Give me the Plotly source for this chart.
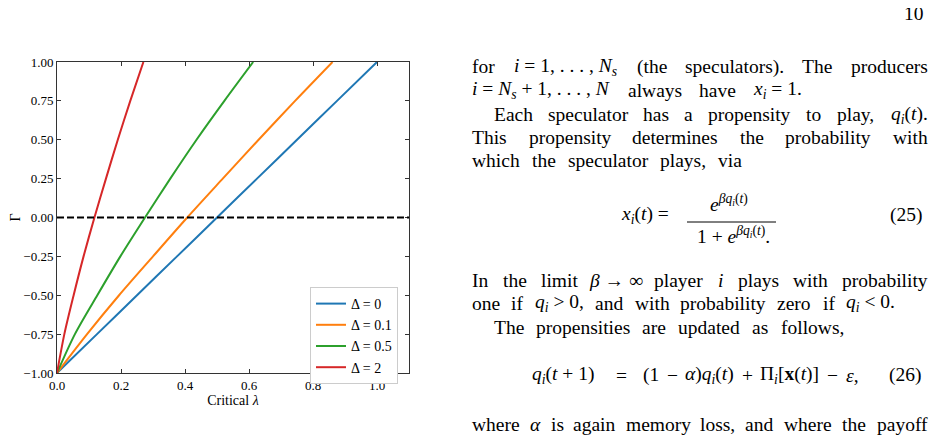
import re
import plotly.graph_objects as go

gamma = [-1.0, -0.75, -0.5, -0.25, 0.0, 0.25, 0.5, 0.75, 1.0]

# critical lambda for each Delta
lam_d0 = [0.0, 0.125, 0.25, 0.375, 0.5, 0.625, 0.75, 0.875, 1.0]
lam_d01 = [0.0, 0.094, 0.194, 0.300, 0.407, 0.518, 0.630, 0.744, 0.861]
lam_d05 = [0.0, 0.056, 0.126, 0.198, 0.275, 0.354, 0.436, 0.523, 0.613]
lam_d2 = [0.0, 0.023, 0.052, 0.083, 0.117, 0.153, 0.190, 0.229, 0.270]

series_names = ["Δ = 0", "Δ = 0.1", "Δ = 0.5", "Δ = 2"]
series_x = [lam_d0, lam_d01, lam_d05, lam_d2]
colors = ["#1f77b4", "#ff7f0e", "#2ca02c", "#d62728"]

x_ticks = [0.0, 0.2, 0.4, 0.6, 0.8, 1.0]
y_ticks = [-1.0, -0.75, -0.5, -0.25, 0.0, 0.25, 0.5, 0.75, 1.0]

# the page body has an 8px margin, so the figure is a bit smaller than the window
OFF = 8
W, H = 938 - OFF, 438 - OFF
SERIF = "Liberation Serif, Times New Roman, serif"
BODY = 19.5


def px(x):
    return (x - OFF) / W


def py(y):
    return 1 - (y - OFF) / H


fig = go.Figure()

for name, xs, c in zip(series_names, series_x, colors):
    fig.add_trace(go.Scatter(
        x=xs, y=gamma, mode="lines", name=name,
        line=dict(color=c, width=2, shape="spline", smoothing=0.8),
    ))

fig.add_hline(y=0, line=dict(color="black", width=2, dash="7px,3px"))

axis_common = dict(
    showline=True, linecolor="#333", linewidth=1, mirror="allticks",
    ticks="inside", ticklen=4, tickcolor="#333", showgrid=False,
    zeroline=False, automargin=False,
    tickfont=dict(family=SERIF, size=13, color="black"),
)

fig.update_xaxes(
    range=[0, 1.1], tickvals=x_ticks, tickformat=".1f",
    domain=[px(57), px(409)],
    title=dict(text="Critical <i>λ</i>", font=dict(family=SERIF, size=14, color="black"), standoff=0),
    **axis_common,
)
fig.update_yaxes(
    range=[-1, 1], tickvals=y_ticks, tickformat=".2f",
    domain=[py(373), py(62)],
    title=dict(text="Γ", font=dict(family=SERIF, size=14, color="black"), standoff=0),
    **axis_common,
)

# ---- page text to the right of the figure ----
# rough Times glyph widths (per 1000 em) to spread the words of a line
NARROW = set("ijlt.,:;'!|")
SEMI = set("frI()[]s")
WIDE = set("mwMW→")


def glyph_w(ch):
    if ch == " ":
        return 250
    if ch in NARROW:
        return 270
    if ch in SEMI:
        return 350
    if ch in WIDE:
        return 760
    if ch in "=+<>−":
        return 564
    if ch.isupper() or ch in "Π∞":
        return 690
    if ch in "acez":
        return 444
    return 500


def est_width(html, size):
    w, scale = 0.0, 1.0
    for tok in re.split(r"(<[^>]+>|&[a-z]+;)", html):
        if not tok:
            continue
        if tok in ("<sub>", "<sup>"):
            scale = 0.7
        elif tok in ("</sub>", "</sup>"):
            scale = 1.0
        elif tok.startswith("<"):
            continue
        elif tok.startswith("&"):
            w += 564 * scale
        else:
            w += sum(glyph_w(c) for c in tok) * scale
    return w * size / 1000


annots = []


def text(s, x, y, anchor="left", size=BODY):
    annots.append(dict(
        text=s, x=px(x), y=py(y), xref="paper", yref="paper",
        xanchor=anchor, yanchor="middle", showarrow=False,
        font=dict(family=SERIF, size=size, color="black"),
    ))


def line(words, x0, x1, y, size=BODY):
    # spread the words between x0 and x1 like justified type
    widths = [est_width(w, size) for w in words]
    gap = (x1 - x0 - sum(widths)) / max(len(words) - 1, 1)
    pos = x0
    for w, wd in zip(words, widths):
        text(w, pos + wd / 2, y, anchor="center", size=size)
        pos += wd + gap


I = lambda s: f"<i>{s}</i>"
sub_i = "<sub><i>i</i></sub>"
sub_s = "<sub><i>s</i></sub>"
e_pow = "<i>e</i><sup><i>βq</i><sub><i>i</i></sub>(<i>t</i>)</sup>"
R = 928

text("10", 926, 14, anchor="right")

line(["for", f"{I('i')} = 1, . . . , {I('N')}{sub_s}", "(the", "speculators).", "The", "producers"],
     472, R, 67)
line([f"{I('i')} = {I('N')}{sub_s} + 1, . . . , {I('N')}", "always", "have",
      f"{I('x')}{sub_i} = 1."], 472, 802, 90)
line(["Each", "speculator", "has", "a", "propensity", "to", "play,", f"{I('q')}{sub_i}({I('t')})."],
     493, R, 115)
line(["This", "propensity", "determines", "the", "probability", "with"], 472, R, 137)
line(["which", "the", "speculator", "plays,", "via"], 472, 742, 160)

# equation (25)
text(f"{I('x')}{sub_i}({I('t')}) =", 645, 215, anchor="center")
text(e_pow, 729, 203, anchor="center")
text(f"1 + {e_pow}.", 733, 235, anchor="center")
text("(25)", 925, 215, anchor="right")
fig.add_shape(type="line", xref="paper", yref="paper",
              x0=px(687), x1=px(776), y0=py(222), y1=py(222),
              line=dict(color="black", width=1))

line(["In", "the", "limit", f"{I('β')} → ∞", "player", I("i"), "plays", "with", "probability"],
     472, R, 280)
line(["one", "if", f"{I('q')}{sub_i} &gt; 0,", "and", "with", "probability", "zero", "if",
      f"{I('q')}{sub_i} &lt; 0."], 472, 895, 303)
line(["The", "propensities", "are", "updated", "as", "follows,"], 493, 844, 327)

# equation (26)
text(f"{I('q')}{sub_i}({I('t')} + 1)", 530, 375)
text("=", 621, 375, anchor="center")
line(["(1", "−", f"{I('α')}){I('q')}{sub_i}({I('t')})", "+", f"Π{sub_i}[<b>x</b>({I('t')})]", "−",
      f"{I('ε')},"], 643, 860, 375)
text("(26)", 924, 375, anchor="right")

line(["where", I("α"), "is", "again", "memory", "loss,", "and", "where", "the", "payoff"], 472, R, 424)

fig.update_layout(
    width=W, height=H,
    margin=dict(l=0, r=0, t=0, b=0),
    paper_bgcolor="white", plot_bgcolor="white",
    font=dict(family=SERIF, color="black"),
    showlegend=True,
    legend=dict(
        x=px(310), y=py(287), xanchor="left", yanchor="top",
        bgcolor="white", bordercolor="#ccc", borderwidth=1,
        font=dict(family=SERIF, size=14, color="black"),
        tracegroupgap=0,
    ),
    annotations=annots,
)

fig.write_html("out.html")
